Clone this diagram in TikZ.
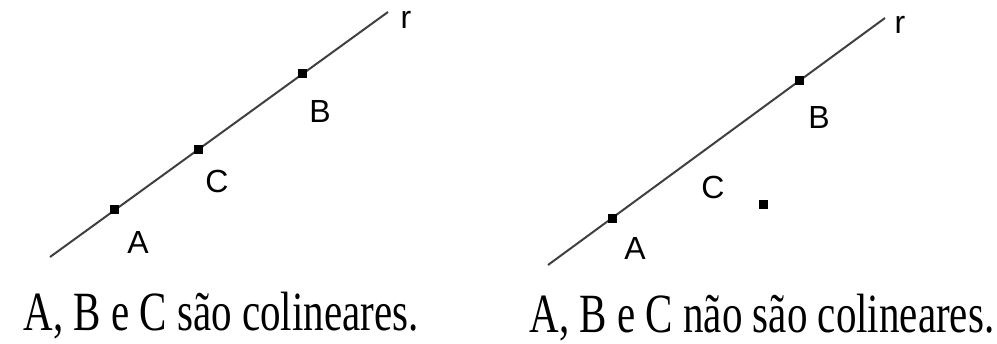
\documentclass[tikz,border=0pt]{standalone}
\usepackage{fontspec}
\usetikzlibrary{calc}
\setmainfont{Liberation Serif}
\newfontfamily\labelfont{Liberation Sans}
\begin{document}
\begin{tikzpicture}[x=1pt,y=-1pt,
  ptbox/.style={fill=black,inner sep=0pt,minimum size=9pt,rectangle},
  lbl/.style={font=\labelfont\fontsize{32}{32}\selectfont,inner sep=0pt},
  captext/.style={font=\fontsize{41}{41}\selectfont,inner sep=0pt,anchor=base},
  rline/.style={draw=black!75,line width=2pt}]
\useasboundingbox (0,0) rectangle (997,344);
% left panel
\coordinate (L0) at (50,257);
\coordinate (L1) at (388,12);
\draw[rline] (L0) -- (L1);
\node[ptbox] (LA) at ($(L0)!0.192!(L1)$) {};
\node[ptbox] (LC) at ($(L0)!0.44!(L1)$) {};
\node[ptbox] (LB) at ($(L0)!0.748!(L1)$) {};
\node[lbl] (lA) at (138,242) {A};
\node[lbl] (lC) at (217,181) {C};
\node[lbl] (lB) at (320,111) {B};
\node[lbl] (lr) at (406,20) {r};
\node[captext] (capL) at (221,331) {\scalebox{1}[1.35]{A, B e C são colineares.}};
% right panel
\coordinate (R0) at (548,265);
\coordinate (R1) at (885,18);
\draw[rline] (R0) -- (R1);
\node[ptbox] (RA) at ($(R0)!0.19!(R1)$) {};
\node[ptbox] (RB) at ($(R0)!0.745!(R1)$) {};
\node[ptbox] (RC) at (763,205) {};
\node[lbl] (rA) at (635,248) {A};
\node[lbl] (rC) at (713,187) {C};
\node[lbl] (rB) at (819,117) {B};
\node[lbl] (rr) at (900,25) {r};
\node[captext] (capR) at (762,333) {\scalebox{1}[1.35]{A, B e C não são colineares.}};
\end{tikzpicture}
\end{document}
